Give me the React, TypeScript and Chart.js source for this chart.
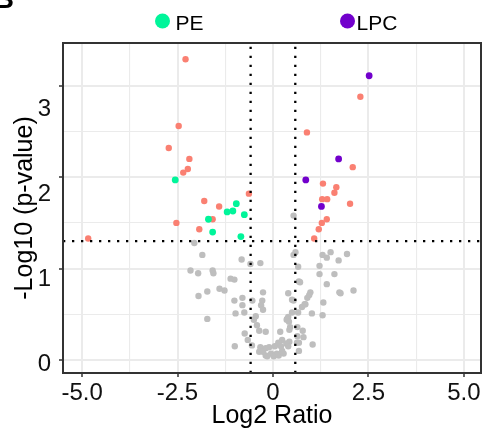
import React, { useEffect, useRef } from 'react';
import { Chart, registerables } from 'chart.js';

Chart.register(...registerables);

// ---- data ----
const groupLabels = ['Not significant', 'Significant', 'PE', 'LPC'];
const legendGroups = ['PE', 'LPC'];

const grayX = [
  -2.06, -1.85, -0.82, -0.59, -0.33, -2.16, -1.96, -1.58, -1.56, -1.11, -1.01, -1.40, -1.27, -1.72,
  -1.95, -1.01, -0.80, -0.54, -0.26, -0.28, -0.31, -0.80, -0.26, -0.98, -0.75, -0.45, -0.50, -0.42,
  -1.72, -0.36, -0.19, -0.74, -0.66, -0.55, -1.00, -0.33, -0.36, -0.19, -0.19, -0.26,
  0.54, 0.59, 0.54, 1.30, 1.41, 1.51, 1.94, 1.72, 1.22, 0.66, 1.22, 1.61, 0.68, 0.71, 1.41, 1.74,
  1.77, 2.11, 0.98, 0.95, 0.40, 0.50, 0.54, 0.90, 1.32, 0.83, 0.76, 0.50, 0.66, 1.02, 1.30, 0.40,
  0.36, 0.45, 0.64, 0.43, 0.78, 0.19, 0.80, 0.64, 0.24, 0.43, 0.68, 0.35, 0.14, 1.04, -0.10, 0.05,
  0.21, 0.40, 0.68, -0.05, 0.10, 0.24, -0.15, 0.02, 0.15, 0.28, 0.37, 0.42, 0.85, 0.63,
];
const grayY = [
  1.28, 1.15, 1.10, 1.05, 1.06, 0.98, 0.95, 0.98, 0.95, 0.89, 0.88, 0.78, 0.76, 0.75,
  0.70, 0.65, 0.68, 0.65, 0.74, 0.65, 0.60, 0.60, 0.55, 0.51, 0.52, 0.48, 0.44, 0.38,
  0.45, 0.32, 0.31, 0.29, 0.22, 0.16, 0.15, 0.14, 0.09, 0.13, 0.05, 0.09,
  1.58, 1.18, 1.15, 1.15, 1.12, 1.18, 1.16, 1.09, 1.03, 1.02, 0.94, 0.94, 0.86, 0.85, 0.83, 0.74,
  0.73, 0.76, 0.74, 0.71, 0.73, 0.66, 0.65, 0.68, 0.63, 0.61, 0.58, 0.52, 0.52, 0.51, 0.49, 0.47,
  0.44, 0.36, 0.36, 0.33, 0.32, 0.31, 0.25, 0.26, 0.22, 0.20, 0.19, 0.18, 0.19, 0.17, 0.14, 0.15,
  0.15, 0.15, 0.10, 0.07, 0.07, 0.10, 0.04, 0.04, 0.05, 0.07, 0.45, 0.42, 0.61, 0.19,
];

const sigX = [
  -2.29, -2.47, -2.73, -2.19, -2.23, -2.35, -0.63, -1.80, -1.41, -1.58, -2.53, -1.93, -4.84,
  2.29, 0.89, 2.09, 1.31, 1.66, 1.61, 1.29, 1.42, 2.02, 1.41, 1.28, 1.20, 1.08,
];
const sigY = [
  3.29, 2.56, 2.32, 2.20, 2.09, 2.05, 1.82, 1.74, 1.68, 1.54, 1.50, 1.43, 1.33,
  2.88, 2.49, 2.11, 1.93, 1.89, 1.83, 1.76, 1.76, 1.71, 1.54, 1.50, 1.43, 1.33,
];

const peX = [-2.56, -0.96, -1.20, -1.05, -0.75, -1.69, -1.58, -0.84];
const peY = [1.97, 1.71, 1.62, 1.63, 1.59, 1.54, 1.40, 1.35];

const lpcX = [2.52, 1.72, 0.86, 1.27];
const lpcY = [3.11, 2.20, 1.97, 1.68];

const fcThreshold = 0.585;
const pThreshold = 1.301;

const xLimits = [-5.5, 5.45];
const yLimits = [-0.142, 3.468];
const yLabelLimits = [-0.106, 3.776];

const xTickValues = [-5, -2.5, 0, 2.5, 5];
const xTickLabels = ['-5.0', '-2.5', '0', '2.5', '5.0'];
const yTickValues = [0, 1, 2, 3];
const yTickLabels = ['0', '1', '2', '3'];

const xTitle = 'Log2 Ratio';
const yTitle = '-Log10 (p-value)';
const panelLetter = 'B';

// ---- styles ----
const FONT = "'Liberation Sans', Arial, Helvetica, sans-serif";
const COLORS = ['#BEBEBE', '#FA8072', '#00F59A', '#7200CC'];
const GRID = '#EBEBEB';

const pts = (xs: number[], ys: number[]) => xs.map((x, i) => ({ x, y: ys[i] }));
const near = (a: number, b: number) => Math.abs(a - b) < 1e-6;

export default function App() {
  const ref = useRef<HTMLCanvasElement | null>(null);

  useEffect(() => {
    if (!ref.current) return;

    const decorPlugin = {
      id: 'decor',
      afterDraw(chart: any) {
        const { ctx, chartArea } = chart;
        ctx.save();
        // panel border
        ctx.strokeStyle = '#333333';
        ctx.lineWidth = 2;
        ctx.strokeRect(chartArea.left, chartArea.top, chartArea.right - chartArea.left, chartArea.bottom - chartArea.top);
        // legend
        const legendPos = [
          { cx: 162.5, tx: 175.5 },
          { cx: 347.5, tx: 356.5 },
        ];
        legendGroups.forEach((name, i) => {
          const ds = chart.data.datasets.find((d: any) => d.label === name);
          ctx.fillStyle = ds.backgroundColor;
          ctx.beginPath();
          ctx.arc(legendPos[i].cx, 21, 7.5, 0, Math.PI * 2);
          ctx.fill();
          ctx.fillStyle = '#000';
          ctx.font = `21px ${FONT}`;
          ctx.textAlign = 'left';
          ctx.textBaseline = 'alphabetic';
          ctx.fillText(name, legendPos[i].tx, 30);
        });
        // panel letter (cut off at the top-left)
        ctx.fillStyle = '#000';
        ctx.font = `bold 28px ${FONT}`;
        ctx.textAlign = 'right';
        ctx.textBaseline = 'alphabetic';
        ctx.fillText(panelLetter, 14, 8);
        ctx.restore();
      },
    };

    const dotted = { showLine: true, pointRadius: 0, borderColor: '#000', borderWidth: 2.3, borderDash: [2.3, 6.7], order: 0 };

    const chart = new Chart(ref.current, {
      type: 'scatter',
      data: {
        datasets: [
          { label: 'thr-left', data: [{ x: -fcThreshold, y: yLimits[0] }, { x: -fcThreshold, y: yLimits[1] }], ...dotted },
          { label: 'thr-right', data: [{ x: fcThreshold, y: yLimits[0] }, { x: fcThreshold, y: yLimits[1] }], ...dotted },
          { label: 'thr-p', data: [{ x: xLimits[0], y: pThreshold }, { x: xLimits[1], y: pThreshold }], ...dotted },
          { label: groupLabels[3], data: pts(lpcX, lpcY), backgroundColor: COLORS[3], borderWidth: 0, pointRadius: 3.4, order: 1 },
          { label: groupLabels[2], data: pts(peX, peY), backgroundColor: COLORS[2], borderWidth: 0, pointRadius: 3.4, order: 2 },
          { label: groupLabels[1], data: pts(sigX, sigY), backgroundColor: COLORS[1], borderWidth: 0, pointRadius: 3.2, order: 3 },
          { label: groupLabels[0], data: pts(grayX, grayY), backgroundColor: COLORS[0], borderWidth: 0, pointRadius: 3.2, order: 4 },
        ],
      },
      options: {
        responsive: false,
        animation: false,
        events: [],
        layout: { padding: { top: 43, right: 2, left: 0, bottom: 0 } },
        plugins: { legend: { display: false }, tooltip: { enabled: false } },
        scales: {
          x: {
            type: 'linear',
            position: 'bottom',
            min: xLimits[0],
            max: xLimits[1],
            afterFit: (s: any) => { s.height = 61; },
            border: { display: false },
            grid: {
              color: GRID,
              lineWidth: (c: any) => (xTickValues.some((v) => near(v, c.tick?.value)) ? 2 : 1.1),
              tickColor: (c: any) => (xTickValues.some((v) => near(v, c.tick?.value)) ? '#333333' : 'rgba(0,0,0,0)'),
              tickLength: 4,
              tickWidth: 1.5,
            },
            ticks: {
              stepSize: 1.25,
              includeBounds: false,
              autoSkip: false,
              maxRotation: 0,
              padding: 2,
              color: '#111',
              font: { family: FONT, size: 24 },
              callback: (v: any) => {
                const i = xTickValues.findIndex((t) => near(t, Number(v)));
                return i >= 0 ? xTickLabels[i] : '';
              },
            },
            title: {
              display: true,
              text: xTitle,
              color: '#000',
              font: { family: FONT, size: 25 },
              padding: { top: 0, bottom: 3 },
            },
          },
          y: {
            type: 'linear',
            position: 'left',
            weight: 0,
            min: yLimits[0],
            max: yLimits[1],
            afterFit: (s: any) => { s.width = 6; },
            border: { display: false },
            grid: {
              color: GRID,
              lineWidth: (c: any) => (yTickValues.some((v) => near(v, c.tick?.value)) ? 2 : 1.1),
              tickColor: (c: any) => (yTickValues.some((v) => near(v, c.tick?.value)) ? '#333333' : 'rgba(0,0,0,0)'),
              tickLength: 4,
              tickWidth: 1.5,
            },
            ticks: { stepSize: 0.5, includeBounds: false, display: false },
          },
          yl: {
            type: 'linear',
            position: 'left',
            weight: 1,
            min: yLabelLimits[0],
            max: yLabelLimits[1],
            afterFit: (s: any) => { s.width = 57; },
            border: { display: false },
            grid: { display: false, drawTicks: false },
            ticks: {
              stepSize: 1,
              includeBounds: false,
              padding: 6,
              color: '#111',
              font: { family: FONT, size: 24 },
              callback: (v: any) => {
                const i = yTickValues.findIndex((t) => near(t, Number(v)));
                return i >= 0 ? yTickLabels[i] : '';
              },
            },
            title: {
              display: true,
              text: yTitle,
              color: '#000',
              font: { family: FONT, size: 25 },
              padding: { top: 10, bottom: 0 },
            },
          },
        },
      },
      plugins: [decorPlugin],
    } as any);

    return () => chart.destroy();
  }, []);

  return (
    <div style={{ position: 'absolute', left: 0, top: 0, width: 485, height: 434, background: '#fff' }}>
      <canvas ref={ref} width={485} height={434} style={{ display: 'block', width: 485, height: 434 }} />
    </div>
  );
}
